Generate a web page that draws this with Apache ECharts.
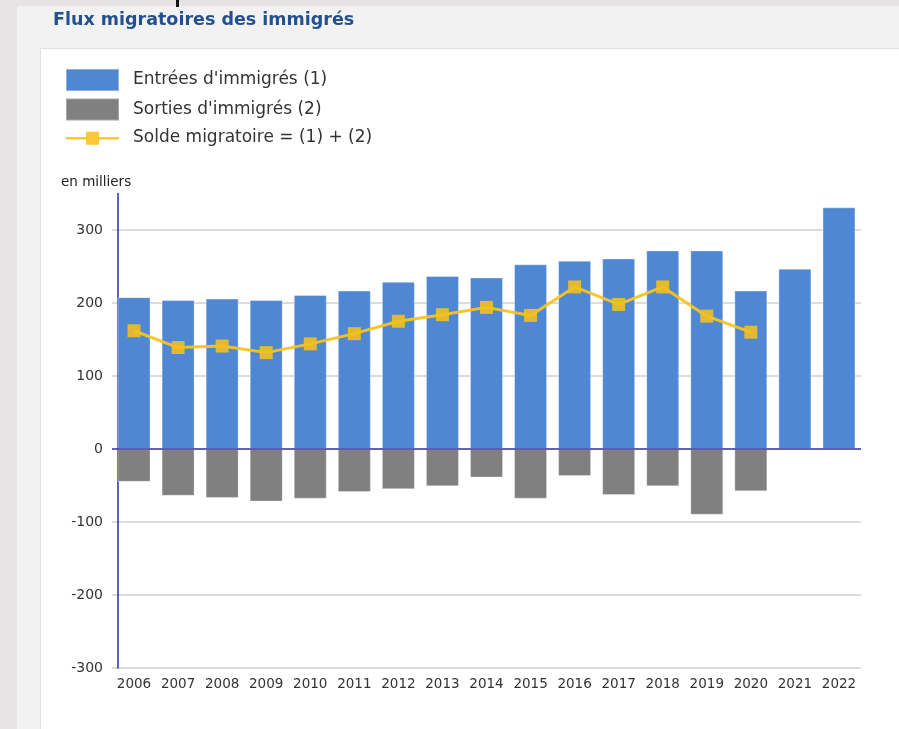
<!DOCTYPE html>
<html>
<head>
<meta charset="utf-8">
<title>Flux migratoires des immigrés</title>
<script src="https://cdn.jsdelivr.net/npm/echarts@6/dist/echarts.min.js"></script>
<style>
  html, body { margin: 0; padding: 0; width: 899px; height: 729px; overflow: hidden; background: #e7e2e3; }
  #page { position: absolute; left: 17px; top: 6px; right: 0; bottom: 0; background: #f2f2f2; }
  #panel { position: absolute; left: 40px; top: 48px; width: 870px; height: 700px; background: #fff; border: 1px solid #e1e1e1; box-sizing: border-box; }
  #mark { position: absolute; left: 176px; top: 0; width: 3px; height: 7px; background: #111; }
  #chart { position: absolute; left: 0; top: 0; width: 899px; height: 729px; }
</style>
</head>
<body>
<div id="page"></div>
<div id="panel"></div>
<div id="mark"></div>
<div id="chart"></div>
<script>
var years = ["2006", "2007", "2008", "2009", "2010", "2011", "2012", "2013", "2014",
  "2015", "2016", "2017", "2018", "2019", "2020", "2021", "2022"];
var entrees = [208, 204, 206, 204, 211, 217, 229, 237, 235, 253, 258, 261, 272, 272, 217, 247, 331];
var sorties = [-45, -64, -67, -72, -68, -59, -55, -51, -39, -68, -37, -63, -51, -90, -58, null, null];
var solde = [162, 139, 141, 132, 144, 158, 175, 184, 194, 183, 222, 198, 222, 182, 160, null, null];
var yTicks = [-300, -200, -100, 0, 100, 200, 300];

var seriesNames = ["Entrées d'immigrés (1)", "Sorties d'immigrés (2)", "Solde migratoire = (1) + (2)"];

// legend icon for the line: a line with a small square in the middle
var lineIcon = "path://M0,0L0.01,0L0.01,0.01Z M53,22L52.99,22L52.99,21.99Z " +
  "M0,10L53,10L53,12.5L0,12.5Z M20,4.75L33,4.75L33,17.75L20,17.75Z";

var chartDom = document.getElementById("chart");
var myChart = echarts.init(chartDom);
var option;

option = {
  animation: false,
  textStyle: { fontFamily: "DejaVu Sans" },
  title: [
    {
      text: "Flux migratoires des immigrés",
      left: 53,
      top: 11,
      padding: 0,
      textStyle: { fontFamily: "DejaVu Sans", fontSize: 17.5, fontWeight: "bold", color: "#23508e" }
    },
    {
      text: "en milliers",
      left: 61,
      top: 175,
      padding: 0,
      textStyle: { fontFamily: "DejaVu Sans", fontSize: 13.5, fontWeight: "normal", color: "#222" }
    }
  ],
  legend: {
    orient: "vertical",
    left: 65,
    top: 68,
    padding: 0,
    itemWidth: 53,
    itemHeight: 22,
    itemGap: 5.5,
    selectedMode: false,
    textStyle: { fontFamily: "DejaVu Sans", fontSize: 17, lineHeight: 22, color: "#333", padding: [0, 0, 0, 9] },
    data: [
      { name: seriesNames[0], icon: "rect" },
      { name: seriesNames[1], icon: "rect" },
      { name: seriesNames[2], icon: lineIcon, itemStyle: { color: "#f9c31f", borderWidth: 0 } }
    ]
  },
  grid: { left: 112, right: 38, top: 193.5, bottom: 61 },
  xAxis: {
    type: "category",
    data: years,
    axisLine: { show: false },
    axisTick: { show: false },
    axisLabel: { margin: 9, fontSize: 13.5, color: "#333", interval: 0 }
  },
  yAxis: {
    type: "value",
    min: yTicks[0],
    max: 350,
    interval: 100,
    offset: -6,
    axisLine: { show: true, lineStyle: { color: "#2b2ba6", width: 1.5 } },
    axisTick: { show: false },
    axisLabel: {
      margin: 15,
      fontSize: 14,
      color: "#333",
      formatter: function (v) { return yTicks.indexOf(v) >= 0 ? String(v) : ""; }
    },
    splitLine: {
      lineStyle: {
        width: 1.5,
        color: ["#d0d0d0", "#d0d0d0", "#d0d0d0", "#d0d0d0", "#d0d0d0", "#d0d0d0", "#d0d0d0", "rgba(0,0,0,0)"]
      }
    }
  },
  series: [
    {
      name: seriesNames[0],
      type: "bar",
      data: entrees,
      barWidth: 33,
      barGap: "-100%",
      itemStyle: { color: "#5087d3", borderColor: "rgba(255,255,255,0.35)", borderWidth: 1 },
      markLine: {
        silent: true,
        symbol: "none",
        label: { show: false },
        lineStyle: { color: "#3a3aa6", width: 1.5, type: "solid" },
        data: [{ yAxis: 0 }]
      }
    },
    {
      name: seriesNames[1],
      type: "bar",
      data: sorties,
      barWidth: 33,
      barGap: "-100%",
      itemStyle: { color: "#808080", borderColor: "rgba(255,255,255,0.3)", borderWidth: 1 }
    },
    {
      name: seriesNames[2],
      type: "line",
      data: solde,
      z: 5,
      symbol: "rect",
      symbolSize: 13,
      connectNulls: false,
      lineStyle: { color: "#f9c31f", width: 3, opacity: 0.95 },
      itemStyle: { color: "#f2c01f", opacity: 0.9 }
    }
  ]
};

option && myChart.setOption(option);
</script>
</body>
</html>
